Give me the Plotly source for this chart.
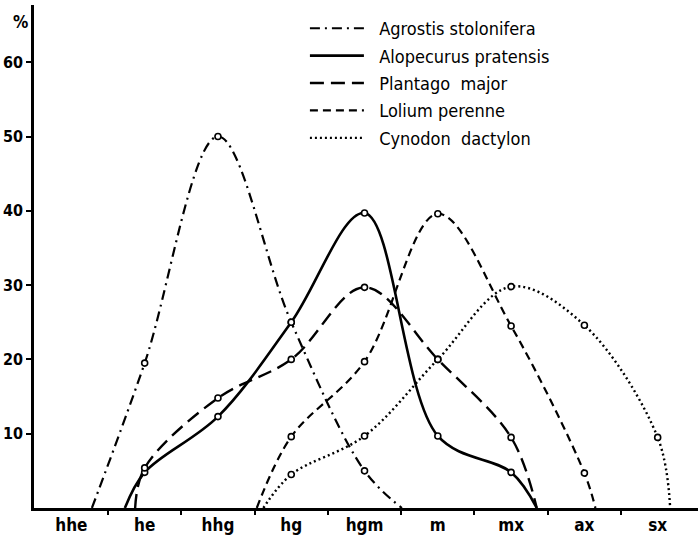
import plotly.graph_objects as go

categories = ["hhe", "he", "hhg", "hg", "hgm", "m", "mx", "ax", "sx"]
cat_pos = [0, 1, 2, 3, 4, 5, 6, 7, 8]

# x positions (category index units) and % values, incl. where curves meet baseline
agrostis_x = [0.28, 1, 2, 3, 4, 4.51]
agrostis_y = [0, 19.5, 50, 25, 5, 0]
alopecurus_x = [0.73, 1, 2, 3, 4, 5, 6, 6.35]
alopecurus_y = [0, 4.8, 12.3, 25, 39.7, 9.7, 4.8, 0]
plantago_x = [0.87, 1, 2, 3, 4, 5, 6, 6.35]
plantago_y = [0, 5.4, 14.8, 20, 29.7, 20, 9.5, 0]
lolium_x = [2.53, 3, 4, 5, 6, 7, 7.15]
lolium_y = [0, 9.6, 19.7, 39.6, 24.5, 4.7, 0]
cynodon_x = [2.62, 3, 4, 5, 6, 7, 8, 8.17]
cynodon_y = [0, 4.5, 9.7, 20, 29.8, 24.6, 9.5, 0]

series = [
    ("Agrostis stolonifera", agrostis_x, agrostis_y, "10px,5px,2px,5px", 2.2),
    ("Alopecurus pratensis", alopecurus_x, alopecurus_y, "solid", 2.6),
    ("Plantago  major", plantago_x, plantago_y, "14px,7px", 2.4),
    ("Lolium perenne", lolium_x, lolium_y, "8px,5px", 2.2),
    ("Cynodon  dactylon", cynodon_x, cynodon_y, "2px,3px", 2.4),
]

FONT = "DejaVu Sans Condensed, Liberation Sans Narrow, DejaVu Sans"

fig = go.Figure()
for i, (name, xs, ys, dash, w) in enumerate(series):
    fig.add_trace(go.Scatter(
        x=xs, y=ys, mode="lines", name="\u00a0\u00a0" + name, legendgroup=f"g{i}",
        line=dict(color="black", width=w, dash=dash, shape="spline", smoothing=1.0),
        hoverinfo="skip"))
for i, (name, xs, ys, dash, w) in enumerate(series):
    mx = [x for x, y in zip(xs, ys) if y > 0]
    my = [y for y in ys if y > 0]
    fig.add_trace(go.Scatter(
        x=mx, y=my, mode="markers", showlegend=False,
        marker=dict(symbol="circle", size=6, color="white",
                    line=dict(color="black", width=1.6)),
        hoverinfo="skip"))

# invisible trace on xaxis2 for the between-category tick marks
fig.add_trace(go.Scatter(x=[0.5], y=[0], xaxis="x2", mode="markers",
                         marker=dict(opacity=0), showlegend=False, hoverinfo="skip"))

fig.update_layout(
    width=698, height=539,
    margin=dict(l=34, r=0, t=5, b=31),
    paper_bgcolor="white", plot_bgcolor="white",
    font=dict(family=FONT, color="black"),
    xaxis=dict(range=[-0.51, 8.55], tickvals=cat_pos, ticktext=categories,
               ticks="", showline=True, linewidth=2.5, linecolor="black",
               showgrid=False, zeroline=False,
               tickfont=dict(size=17, family=FONT, weight="bold")),
    xaxis2=dict(range=[-0.51, 8.55], overlaying="x", side="bottom",
                tickvals=[0.5, 1.5, 2.5, 3.5, 4.5, 5.5, 6.5, 7.5],
                showticklabels=False, ticks="outside", ticklen=6, tickwidth=2,
                tickcolor="black", showgrid=False, zeroline=False, showline=False),
    yaxis=dict(range=[0, 67.7], tickvals=[10, 20, 30, 40, 50, 60],
               ticks="outside", ticklen=5, tickwidth=2, tickcolor="black",
               showline=True, linewidth=2.5, linecolor="black",
               showgrid=False, zeroline=False,
               tickfont=dict(size=16, family=FONT, weight="bold")),
    legend=dict(x=0.408, y=0.99, xanchor="left", yanchor="top",
                font=dict(size=18, family=FONT), itemwidth=54,
                tracegroupgap=1, bgcolor="rgba(0,0,0,0)"),
    annotations=[dict(text="<b>%</b>", xref="paper", yref="y", x=-0.021, y=65.4,
                      showarrow=False, font=dict(size=17, family=FONT),
                      xanchor="center", yanchor="middle")],
)

fig.write_html("out.html")
